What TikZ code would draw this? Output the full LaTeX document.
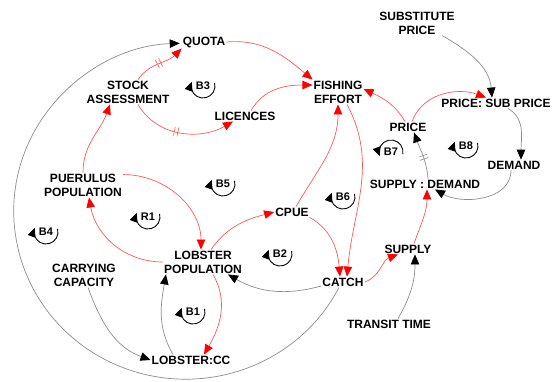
\documentclass[tikz,border=0pt]{standalone}
\usepackage{fontspec}
\setmainfont{Liberation Sans}
\usetikzlibrary{arrows.meta,decorations.markings}
\tikzset{
x=1pt, y=1pt,
quantity/.style={font=\fontsize{12}{14}\selectfont\bfseries, align=center, inner sep=1pt},
rlink/.style={draw=red!65, line width=0.7pt, -{Triangle[length=10pt,width=8.5pt,color=red,fill=red]}},
glink/.style={draw=black!45, line width=0.7pt, -{Triangle[length=10pt,width=8.5pt,color=black,fill=black]}},
delaymark/.style 2 args={postaction={decorate, decoration={markings, mark=at position #1 with {\draw[-,draw=#2,line width=0.6pt] (-1.8,-4.5) -- (-1.8,4.5) (1.8,-4.5) -- (1.8,4.5);}}}},
looplbl/.style={font=\fontsize{11}{11}\selectfont\bfseries, inner sep=0pt},
loopline/.style={line width=0.9pt, -{Triangle[length=9pt,width=8pt]}},
}
\begin{document}
\begin{tikzpicture}
    \useasboundingbox (0,0) rectangle (553,-381);

    \node[quantity] (subst) at (417,-23) {SUBSTITUTE\\PRICE};
    \node[quantity] (quota) at (204,-42) {QUOTA};
    \node[quantity] (stock) at (128,-92) {STOCK\\ASSESSMENT};
    \node[quantity] (licences) at (245,-116) {LICENCES};
    \node[quantity] (effort) at (338,-92) {FISHING\\EFFORT};
    \node[quantity] (price) at (408,-127) {PRICE};
    \node[quantity] (psub) at (496,-103) {PRICE: SUB PRICE};
    \node[quantity] (demand) at (514,-165) {DEMAND};
    \node[quantity] (sd) at (425,-184) {SUPPLY : DEMAND};
    \node[quantity] (puer) at (83,-185) {PUERULUS\\POPULATION};
    \node[quantity] (lobpop) at (203,-262) {LOBSTER\\POPULATION};
    \node[quantity] (carry) at (84,-275) {CARRYING\\CAPACITY};
    \node[quantity] (lobcc) at (191,-360) {LOBSTER:CC};
    \node[quantity] (cpue) at (292,-212) {CPUE};
    \node[quantity] (catch) at (343,-282) {CATCH};
    \node[quantity] (supply) at (408,-249) {SUPPLY};
    \node[quantity] (transit) at (389,-324) {TRANSIT TIME};

    % loop labels
    \node[looplbl] (b3) at (203,-86) {B3};
    \node[looplbl] (b5) at (223,-184) {B5};
    \node[looplbl] (r1) at (148,-217) {R1};
    \node[looplbl] (b4) at (46,-232) {B4};
    \node[looplbl] (b1) at (193,-312) {B1};
    \node[looplbl] (b2) at (280,-254) {B2};
    \node[looplbl] (b6) at (343,-197) {B6};
    \node[looplbl] (b7) at (391,-152) {B7};
    \node[looplbl] (b8) at (466,-146) {B8};
    \foreach \n in {b1,b2,b3,b4,b5,b6,b8,r1}
        \draw[loopline] (\n.center) ++(15:12) arc[start angle=15,end angle=-200,radius=12];
    \draw[loopline] (b7.center) ++(-10:12) arc[start angle=-10,end angle=200,radius=12];

    % red links
    \draw[rlink,delaymark={0.5}{red!65}] ([xshift=10pt]stock.north) to[out=55,in=225] (quota.south west);
    \draw[rlink] (quota.east) to[out=5,in=140] (effort.north west);
    \draw[rlink] ([xshift=6pt]licences.north) to[out=60,in=180] ([yshift=7pt]effort.west);
    \draw[rlink,delaymark={0.45}{red!65}] ([xshift=10pt]stock.south) to[out=-60,in=210] ([xshift=-12pt]licences.south);
    \draw[rlink] (puer.north) to[out=90,in=250] ([xshift=-18pt]stock.south);
    \draw[rlink] ([yshift=-2pt]puer.north east) to[out=0,in=90] ([xshift=-2pt]lobpop.north);
    \draw[rlink] (lobpop.west) to[out=180,in=-80] ([xshift=6pt]puer.south);
    \draw[rlink] ([xshift=8pt]lobpop.north) to[out=55,in=195] (cpue.west);
    \draw[rlink] ([xshift=4pt]cpue.north) to[out=60,in=-90] (effort.south);
    \draw[rlink] (cpue.south east) to[out=-30,in=95] ([xshift=-3pt]catch.north);
    \draw[rlink] ([xshift=9pt]effort.south) to[out=-62,in=85] ([xshift=4pt]catch.north);
    \draw[rlink] (catch.east) to[out=20,in=200] ([xshift=-10pt]supply.south);
    \draw[rlink] ([xshift=6pt]supply.north) to[out=70,in=-90] ([xshift=2pt]sd.south);
    \draw[rlink] ([xshift=-3pt]price.north) to[out=120,in=-25] ([yshift=3pt]effort.east);
    \draw[rlink] ([xshift=4pt]price.north) to[out=70,in=160] ([xshift=-10pt]psub.north);
    \draw[rlink] ([xshift=10pt]lobpop.south) to[out=-60,in=60] ([xshift=13pt]lobcc.north);

    % grey links
    \draw[glink,delaymark={0.45}{black!45}] ([xshift=3pt]sd.north) to[out=95,in=-70] ([xshift=6pt]price.south);
    \draw[glink] ([xshift=25pt]subst.south) to[out=-30,in=95] ([xshift=-4pt]psub.north);
    \draw[glink] ([xshift=12pt]psub.south) to[out=-30,in=90] ([xshift=7pt]demand.north);
    \draw[glink] ([xshift=-3pt]demand.south) to[out=-90,in=-30] ([xshift=10pt]sd.south);
    \draw[glink] ([xshift=9pt]transit.north) to[out=60,in=-90] ([xshift=7pt]supply.south);
    \draw[glink] ([yshift=-4pt]catch.west) to[out=195,in=-30] ([xshift=25pt]lobpop.south);
    \draw[glink] ([xshift=-18pt]lobcc.north) to[out=120,in=-100] ([xshift=-37pt]lobpop.south);
    \draw[glink] ([xshift=4pt]carry.south) to[out=-70,in=160] (lobcc.west);
    \draw[glink] ([xshift=-4pt]catch.south) arc[start angle=-27,end angle=-268,x radius=172,y radius=168];
\end{tikzpicture}
\end{document}
